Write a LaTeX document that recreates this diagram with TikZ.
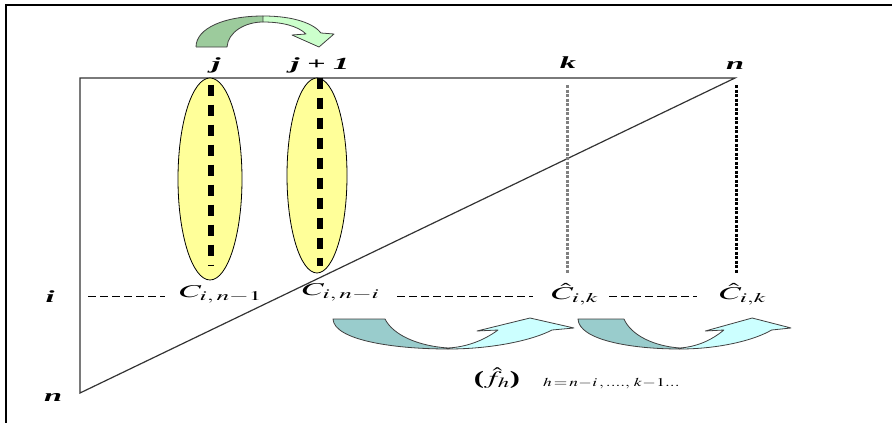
\documentclass[tikz,border=0pt]{standalone}
\usepackage{mathptmx}
\usepackage{fontspec}
\setmainfont{Liberation Serif}
\usetikzlibrary{shapes.geometric}
\definecolor{ellfill}{HTML}{FFFF99}
\definecolor{gdark}{HTML}{9CCB9C}
\definecolor{glight}{HTML}{CCFFCC}
\definecolor{tdark}{HTML}{99CCCC}
\definecolor{tlight}{HTML}{CCFFFF}
\definecolor{edgegray}{HTML}{404040}
\begin{document}
\begin{tikzpicture}[x=1pt,y=-1pt,
  lbl/.style={inner sep=0pt, font=\fontsize{17}{20}\selectfont\bfseries\itshape},
  clbl/.style={inner sep=0pt, font=\fontsize{18}{20}\selectfont},
  ell/.style={ellipse, draw=black, line width=0.8pt, fill=ellfill, inner sep=0pt},
  thickdash/.style={line width=6pt, dash pattern=on 11pt off 9pt},
  dotv/.style={line width=3pt, dash pattern=on 3pt off 1.5pt},
  hdash/.style={line width=0.8pt, dash pattern=on 8pt off 4pt},
  arrowedge/.style={draw=edgegray, line width=0.8pt, line join=round}]
\useasboundingbox (0,0) rectangle (892,423);
% frame
\coordinate (F1) at (6,423);
\coordinate (F2) at (6,5);
\coordinate (F3) at (892,5);
\draw[line width=2pt] (F1) -- (F2) -- (F3);
% triangle
\coordinate (TL) at (80,78);
\coordinate (TR) at (735,78);
\coordinate (BL) at (80,393);
\draw[line width=1.2pt, draw=black!80] (TL) -- (TR) -- (BL) -- cycle;
% vertical dotted lines
\coordinate (kt) at (567,85);
\coordinate (kb) at (567,274);
\coordinate (nt) at (736,85);
\coordinate (nb) at (736,274);
\draw[dotv, draw=black!50] (kt) -- (kb);
\draw[dotv, draw=black] (nt) -- (nb);
% ellipses
\node[ell, minimum width=64pt, minimum height=202pt] (e1) at (210,179) {};
\node[ell, minimum width=60pt, minimum height=195pt] (e2) at (317,175.5) {};
\draw[thickdash] ([xshift=1pt,yshift=-7pt]e1.north) -- ([xshift=1pt,yshift=14pt]e1.south);
\draw[thickdash] ([xshift=3pt]e2.north) -- ([xshift=3pt,yshift=7pt]e2.south);
% top labels
\node[lbl] (lj) at (216,65) {\scalebox{1.9}[1]{j}};
\node[lbl] (lj1) at (320,65) {\scalebox{1.9}[1]{j\hspace{4pt}+\hspace{4pt}1}};
\node[lbl] (lk) at (568,63) {\scalebox{1.9}[1]{k}};
\node[lbl] (ln) at (735,65) {\scalebox{1.9}[1]{n}};
% left labels
\node[lbl] (li) at (50,297) {\scalebox{1.9}[1]{i}};
\node[lbl] (ln2) at (53,397) {\scalebox{1.9}[1]{n}};
% horizontal dashed row
\coordinate (h1) at (88,296);
\coordinate (h2) at (165,296);
\coordinate (h3) at (397,296);
\coordinate (h4) at (533,296);
\coordinate (h5) at (609,296);
\coordinate (h6) at (697,296);
\draw[hdash] (h1) -- (h2);
\draw[hdash] (h3) -- (h4);
\draw[hdash] (h5) -- (h6);
% C labels
\node[clbl] (c1) at (221,294) {\scalebox{1.9}[1]{$C_{i,\,n-1}$}};
\node[clbl] (c2) at (341,292) {\scalebox{1.9}[1]{$C_{i,\,n-i}$}};
\node[clbl] (c3) at (575,294) {\scalebox{1.9}[1]{$\hat{C}_{i,k}$}};
\node[clbl] (c4) at (743,294) {\scalebox{1.9}[1]{$\hat{C}_{i,k}$}};
% top curved arrow
\fill[gdark] (196,47) -- (227,47) .. controls (228,32) and (245,22) .. (263,22) -- (263,16) .. controls (225,16) and (196,28) .. (196,47) -- cycle;
\draw[arrowedge] (196,47) -- (227,47) .. controls (228,32) and (245,22) .. (263,22);
\draw[arrowedge] (263,16) .. controls (225,16) and (196,28) .. (196,47);
\filldraw[arrowedge, fill=glight] (263,16) .. controls (295,16) and (314,24) .. (321,33) -- (334,34) -- (319,47) -- (292,35) -- (306,34) .. controls (298,26) and (282,22) .. (263,22) -- cycle;
% bottom curved arrows
\foreach \sx/\sc in {333/1, 578/0.884}{
\begin{scope}[shift={(\sx,318)}, xscale=\sc]
\filldraw[arrowedge, fill=tdark] (0,1) -- (52,1) .. controls (60,17) and (85,28) .. (115,30) -- (115,31) .. controls (60,31) and (1,22) .. (0,1) -- cycle;
\filldraw[arrowedge, fill=tlight] (115,31) .. controls (160,31) and (200,22) .. (219,12) -- (241,10) -- (197,0) -- (144,13) -- (165,12) .. controls (150,23) and (133,29) .. (115,30) -- cycle;
\end{scope}}
% bottom formula
\node[inner sep=0pt, font=\fontsize{19}{21}\selectfont] (fh) at (497,378) {\scalebox{1.6}[1]{\textbf{(}$\hat{f}_h$\textbf{)}}};
\node[inner sep=0pt, font=\fontsize{12}{14}\selectfont, anchor=west] (hrange) at (543,384) {\scalebox{1.45}[1]{$h\!=\!n\!-\!i\,,....,\,k\!-\!1...$}};
\end{tikzpicture}
\end{document}
